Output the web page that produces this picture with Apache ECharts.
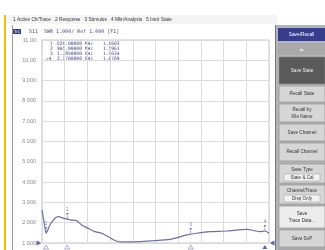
<!DOCTYPE html>
<html>
<head>
<meta charset="utf-8">
<script src="https://cdn.jsdelivr.net/npm/echarts@6/dist/echarts.min.js"></script>
<style>
  html, body { margin: 0; padding: 0; background: #fff; }
  #chart { width: 325px; height: 250px; }
</style>
</head>
<body>
<div id="chart"></div>
<script>
// sweep position in grid divisions (0..10) and the SWR reading there
var xDiv = [0, 0.09, 0.18, 0.26, 0.35, 0.57, 0.72, 0.94, 1.11, 1.31, 1.53, 1.75, 2.04, 2.33, 2.63, 2.92,
            3.22, 3.44, 3.88, 4.32, 4.89, 5.42, 5.64, 6.08, 6.34, 6.81, 7.40, 8.14, 9.02, 9.60, 9.82, 10];
var swr = [2.63, 2.03, 1.48, 1.64, 1.89, 2.22, 2.30, 2.22, 2.18, 2.13, 2.10, 1.89, 1.72, 1.56, 1.48, 1.31,
           1.12, 1.06, 1.06, 1.07, 1.11, 1.15, 1.18, 1.30, 1.39, 1.48, 1.56, 1.59, 1.67, 1.56, 1.59, 1.48];

// markers
var markerNames = ['1', '2', '3', '4'];
var markerX = [0.18, 1.11, 6.55, 9.82];
var markerY = [1.48, 2.18, 1.44, 1.59];
var markerFreq = ['626.00000 MHz', '965.00000 MHz', '1.7850000 GHz', '2.1700000 GHz'];
var markerVal = ['1.6603', '1.5961', '1.5634', '1.6769'];

var yTickLabels = ['1.000', '2.000', '3.000', '4.000', '5.000', '6.000', '7.000', '8.000', '9.000', '10.00', '11.00'];

var menuItems = ['1 Active Ch/Trace', '2 Response', '3 Stimulus', '4 Mkr/Analysis', '5 Instr State'];

var myChart = echarts.init(document.getElementById('chart'));

var sans = '"Liberation Sans", Arial, sans-serif';
var mono = '"DejaVu Sans Mono", "Liberation Mono", monospace';

// right hand soft-key panel
var keys = [
    { t: 'Save State', y: 57, h: 27, dark: true },
    { t: 'Recall State', y: 86, h: 16 },
    { t: 'Recall by\nFile Name', y: 104, h: 18 },
    { t: 'Save Channel', y: 124, h: 17 },
    { t: 'Recall Channel', y: 143, h: 18 },
    { t: 'Save Type', y: 164, h: 19, sub: 'State & Cal' },
    { t: 'Channel/Trace', y: 185, h: 19, sub: 'Disp Only' },
    { t: 'Save\nTrace Data...', y: 206, h: 22, light: true },
    { t: 'Save SnP', y: 230, h: 17 }
];

var graphics = [
    { type: 'rect', shape: { x: 4, y: 15, width: 2, height: 235 }, style: { fill: '#f2c200' } },
    { type: 'rect', shape: { x: 7, y: 15, width: 270, height: 9 }, style: { fill: '#f4f4f4' } },
    { type: 'text', left: 13, top: 17.5, style: { text: menuItems.join('   '), font: '4.8px ' + sans, fill: '#333' } },
    { type: 'line', shape: { x1: 12.5, y1: 25, x2: 12.5, y2: 250 }, style: { stroke: '#999', lineWidth: 1 } },
    { type: 'rect', shape: { x: 13, y: 29, width: 8, height: 5 }, style: { fill: '#2f3f9a' } },
    { type: 'text', left: 14, top: 29.5, style: { text: 'Tr1', font: '4px ' + sans, fill: '#fff' } },
    { type: 'text', left: 29, top: 29, style: { text: 'S11  SWR 1.000/ Ref 1.000 [F1]', font: '5px ' + mono, fill: '#4a4f7a' } },
    { type: 'rect', shape: { x: 275, y: 25, width: 50, height: 225 }, style: { fill: '#b4b4b4' } },
    { type: 'line', shape: { x1: 275.5, y1: 25, x2: 275.5, y2: 250 }, style: { stroke: '#777', lineWidth: 1 } },
    { type: 'rect', shape: { x: 278, y: 28, width: 47, height: 13 }, style: { fill: '#353d8c' } },
    { type: 'text', x: 301.5, y: 34.5, style: { text: 'Save/Recall', font: '4.8px ' + sans, fill: '#fff', align: 'center', verticalAlign: 'middle' } },
    { type: 'rect', shape: { x: 278, y: 43, width: 47, height: 12 }, style: { fill: '#a9a9a9' } },
    { type: 'polygon', shape: { points: [[299, 51], [304, 51], [301.5, 48]] }, style: { fill: '#ddd' } },
    { type: 'rect', shape: { x: 278, y: 248, width: 47, height: 2 }, style: { fill: '#a9a9a9' } }
];

keys.forEach(function (k) {
    var fill = k.dark ? '#5a5a5a' : (k.light ? '#ececec' : '#d6d6d6');
    graphics.push({ type: 'rect', shape: { x: 279, y: k.y, width: 46, height: k.h },
        style: { fill: fill, stroke: '#8a8a8a', lineWidth: 0.6 } });
    var ty = k.sub ? k.y + 5.5 : k.y + k.h / 2;
    graphics.push({ type: 'text', x: 302, y: ty,
        style: { text: k.t, font: '4.6px ' + sans, fill: k.dark ? '#f0f0f0' : '#333',
                 align: 'center', verticalAlign: 'middle', lineHeight: 7 } });
    if (k.sub) {
        graphics.push({ type: 'rect', shape: { x: 284, y: k.y + 10, width: 36, height: 7 },
            style: { fill: '#f2f2f2', stroke: '#999', lineWidth: 0.5 } });
        graphics.push({ type: 'text', x: 302, y: k.y + 13.5,
            style: { text: k.sub, font: '4.6px ' + sans, fill: '#333', align: 'center', verticalAlign: 'middle' } });
    }
});

// marker readout block
markerNames.forEach(function (n, i) {
    var top = 41 + i * 5;
    var st = { font: '4.6px ' + mono, fill: '#3e4388' };
    graphics.push({ type: 'text', left: i === 3 ? 46 : 50, top: top, style: Object.assign({ text: (i === 3 ? '>' : '') + n }, st) });
    graphics.push({ type: 'text', left: 57, top: top, style: Object.assign({ text: markerFreq[i] }, st) });
    graphics.push({ type: 'text', left: 103, top: top, style: Object.assign({ text: markerVal[i] }, st) });
});

var option = {
    backgroundColor: '#fff',
    animation: false,
    graphic: graphics,
    grid: {
        left: 42, top: 40, width: 227, height: 203,
        show: true, borderColor: '#c4c4c4', borderWidth: 1
    },
    xAxis: {
        type: 'value', min: 0, max: 10, interval: 1,
        axisLine: { show: false }, axisTick: { show: false }, axisLabel: { show: false },
        splitLine: { lineStyle: { color: '#dcdcdc', width: 1 } }
    },
    yAxis: {
        type: 'value', min: 1, max: 11, interval: 1,
        axisLine: { show: false }, axisTick: { show: false },
        axisLabel: {
            margin: 6, fontSize: 5.5, fontFamily: sans, color: '#8a8a8a',
            formatter: function (v) { return yTickLabels[Math.round(v) - 1]; }
        },
        splitLine: { lineStyle: { color: '#dcdcdc', width: 1 } }
    },
    series: [
        {
            type: 'line',
            data: xDiv.map(function (x, i) { return [x, swr[i]]; }),
            showSymbol: false,
            smooth: 0.2,
            lineStyle: { color: '#6b6fa8', width: 1.2 },
            z: 3
        },
        {
            type: 'scatter',
            data: markerX.map(function (x, i) { return [x, markerY[i]]; }),
            symbol: 'path://M0,0 L4,0 L2,3 Z M1.6,3 L2.4,3 L2.4,8 L1.6,8 Z',
            symbolSize: [3, 6],
            symbolOffset: [0, -3],
            itemStyle: { color: '#5a5e98' },
            label: {
                show: true, position: 'top', distance: 1, fontSize: 4.5, color: '#5a5e98',
                formatter: function (p) { return markerNames[p.dataIndex]; }
            },
            z: 4
        },
        {
            // marker position triangles under the grid
            type: 'scatter',
            clip: false,
            data: markerX.map(function (x, i) {
                return { value: [x, 1], itemStyle: i === 3 ? { color: '#2f3f9a' } : { color: '#fff', borderColor: '#6b6fa8', borderWidth: 0.7 } };
            }),
            symbol: 'triangle',
            symbolSize: [5, 4],
            symbolOffset: [0, 4],
            z: 4
        },
        {
            // reference position arrows
            type: 'scatter',
            clip: false,
            data: [
                { value: [0, 1], symbolRotate: -90, symbolOffset: [-3, 0] },
                { value: [10, 1], symbolRotate: 90, symbolOffset: [3, 0] }
            ],
            symbol: 'triangle',
            symbolSize: [5, 5],
            itemStyle: { color: '#2f3f9a' },
            z: 5
        }
    ]
};

myChart.setOption(option);
</script>
</body>
</html>
